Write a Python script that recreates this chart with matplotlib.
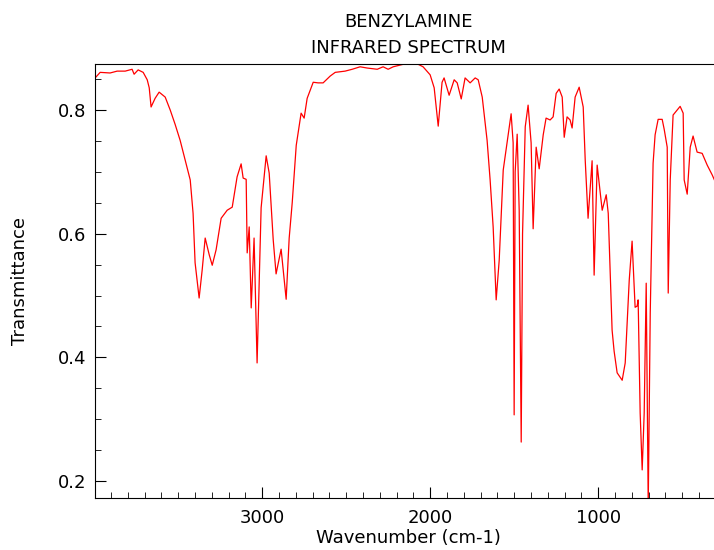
import matplotlib
matplotlib.use('Agg')
import matplotlib.pyplot as plt
from matplotlib.ticker import MultipleLocator

# IR spectrum of benzylamine
wavenumber = [3994, 3964, 3905, 3863, 3815, 3774, 3762, 3738, 3708, 3684,
              3672, 3661, 3637, 3613, 3577, 3547, 3518, 3488, 3458, 3428,
              3411, 3399, 3375, 3357, 3339, 3315, 3297, 3274, 3244, 3208,
              3178, 3149, 3125, 3113, 3095, 3089, 3077, 3065, 3048, 3030,
              3006, 2976, 2958, 2934, 2917, 2887, 2857, 2839, 2821, 2797,
              2768, 2750, 2732, 2696, 2667, 2637, 2595, 2565, 2506, 2464,
              2417, 2375, 2315, 2280, 2250, 2220, 2161, 2071, 2042, 2000,
              1976, 1952, 1929, 1917, 1887, 1857, 1839, 1815, 1792, 1762,
              1732, 1714, 1690, 1661, 1643, 1625, 1607, 1589, 1565, 1542,
              1518, 1506, 1500, 1494, 1482, 1470, 1458, 1450, 1434, 1417,
              1399, 1387, 1369, 1351, 1327, 1310, 1286, 1268, 1250, 1232,
              1214, 1202, 1185, 1167, 1155, 1137, 1113, 1089, 1077, 1060,
              1036, 1024, 1006, 994, 976, 952, 940, 917, 905, 887,
              857, 839, 815, 798, 780, 768, 762, 750, 738, 726,
              714, 702, 690, 673, 661, 643, 619, 607, 589, 583,
              571, 554, 530, 512, 494, 488, 470, 452, 435, 411,
              381, 351, 321, 300]
transmittance = [0.852, 0.861, 0.860, 0.863, 0.863, 0.866, 0.858, 0.865, 0.861, 0.849,
                 0.836, 0.805, 0.819, 0.829, 0.821, 0.800, 0.777, 0.751, 0.719, 0.687,
                 0.633, 0.553, 0.496, 0.541, 0.593, 0.566, 0.549, 0.574, 0.625, 0.638,
                 0.643, 0.692, 0.713, 0.690, 0.688, 0.569, 0.611, 0.480, 0.593, 0.391,
                 0.642, 0.726, 0.698, 0.590, 0.535, 0.575, 0.494, 0.593, 0.650, 0.743,
                 0.795, 0.787, 0.819, 0.845, 0.844, 0.844, 0.855, 0.861, 0.863, 0.866,
                 0.870, 0.868, 0.866, 0.870, 0.866, 0.870, 0.874, 0.874, 0.870, 0.857,
                 0.836, 0.774, 0.845, 0.852, 0.824, 0.849, 0.844, 0.818, 0.852, 0.844,
                 0.852, 0.849, 0.821, 0.751, 0.687, 0.611, 0.493, 0.557, 0.703, 0.747,
                 0.794, 0.747, 0.307, 0.700, 0.761, 0.638, 0.263, 0.600, 0.773, 0.808,
                 0.747, 0.608, 0.740, 0.705, 0.760, 0.787, 0.784, 0.789, 0.827, 0.834,
                 0.821, 0.756, 0.789, 0.784, 0.771, 0.821, 0.837, 0.805, 0.719, 0.625,
                 0.718, 0.533, 0.711, 0.682, 0.638, 0.663, 0.633, 0.444, 0.410, 0.375,
                 0.363, 0.391, 0.525, 0.588, 0.481, 0.483, 0.493, 0.310, 0.218, 0.310,
                 0.520, 0.160, 0.472, 0.714, 0.760, 0.785, 0.785, 0.769, 0.740, 0.504,
                 0.687, 0.792, 0.800, 0.806, 0.795, 0.687, 0.664, 0.740, 0.758, 0.732,
                 0.730, 0.711, 0.695, 0.682]

fig = plt.figure(figsize=(7.14, 5.5), dpi=100)
ax = fig.add_axes([0.133, 0.0945, 0.877, 0.789])

ax.plot(wavenumber, transmittance, color='red', linewidth=0.9)

ax.set_xlim(3995, 268)
ax.set_ylim(0.1725, 0.8744)

ax.xaxis.set_major_locator(MultipleLocator(1000))
ax.xaxis.set_minor_locator(MultipleLocator(100))
ax.yaxis.set_major_locator(MultipleLocator(0.2))
ax.yaxis.set_minor_locator(MultipleLocator(0.05))
ax.tick_params(which='both', direction='in', labelsize=13)
ax.tick_params(axis='x', pad=8)
ax.tick_params(axis='y', pad=6)
ax.tick_params(which='major', length=8)
ax.tick_params(which='minor', length=4)
ax.tick_params(axis='y', which='both', right=False)

ax.set_xlabel('Wavenumber (cm-1)', fontsize=13, labelpad=1)
ax.set_ylabel('Transmittance', fontsize=13)
ax.yaxis.set_label_coords(-0.105, 0.5)
ax.set_title('BENZYLAMINE\nINFRARED SPECTRUM', fontsize=13, pad=8, linespacing=1.55)

fig.savefig('out.png', dpi=100)
